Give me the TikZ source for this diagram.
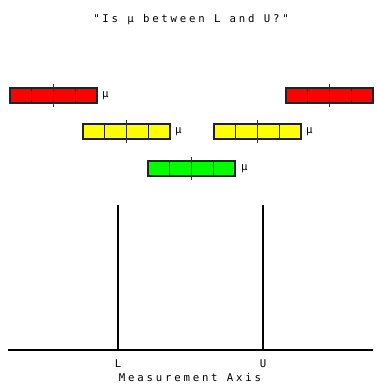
\documentclass[tikz,border=0pt]{standalone}
\usepackage{fontspec}
\usepackage{xcolor}
\usepackage{tikz}
\usetikzlibrary{positioning}
\newfontfamily\pixfont[LetterSpace=26]{DejaVu Sans Mono}
\definecolor{cMiss}{RGB}{255,0,0}
\definecolor{cPart}{RGB}{255,255,0}
\definecolor{cHit}{RGB}{0,255,0}
\definecolor{cEdge}{RGB}{35,35,35}
\definecolor{cTick}{RGB}{50,50,50}
\tikzset{
  lbl/.style={font=\pixfont\fontsize{10.7}{12}\selectfont, inner sep=0pt},
  mulbl/.style={lbl, anchor=west},
  axisline/.style={line width=1.1pt, black}
}

\begin{document}
\begin{tikzpicture}[x=1pt,y=-1pt]
  \useasboundingbox (0,0) rectangle (377,385);
  \node[lbl] (title) at (191,20) {"Is μ between L and U?"};
  % interval bars: left x / top y / colour
  \foreach \bx/\by/\bc in {10/88/cMiss, 83/124/cPart, 148/161/cHit, 214/124/cPart, 286/88/cMiss} {
    \fill[\bc] (\bx,\by) rectangle ++(87,15);
    \foreach \k in {1,2,3} {
      \draw[cEdge,line width=1.4pt] (\bx+21.75*\k,\by) -- ++(0,15);
    }
    \draw[cEdge,line width=1.7pt] (\bx,\by) rectangle ++(87,15);
    \draw[cTick,line width=1.3pt] (\bx+43.5,\by-4) -- ++(0,23);
  }
  \node[mulbl] (muA) at (102,96) {μ};
  \node[mulbl] (muB) at (175,132) {μ};
  \node[mulbl] (muC) at (241,169) {μ};
  \node[mulbl] (muD) at (306,132) {μ};
  % axis with the two limits
  \coordinate (axl) at (8,350);
  \coordinate (axr) at (373,350);
  \coordinate (Ltop) at (118,205);
  \coordinate (Utop) at (263,205);
  \draw[axisline] (axl) -- (axr);
  \node[lbl] (L) at (118,364) {L};
  \node[lbl] (U) at (263,364) {U};
  \draw[axisline] (Ltop) -- (Ltop |- axl);
  \draw[axisline] (Utop) -- (Utop |- axl);
  \node[lbl,anchor=base] (axname) at (190,381.5) {Measurement Axis};
\end{tikzpicture}
\end{document}
